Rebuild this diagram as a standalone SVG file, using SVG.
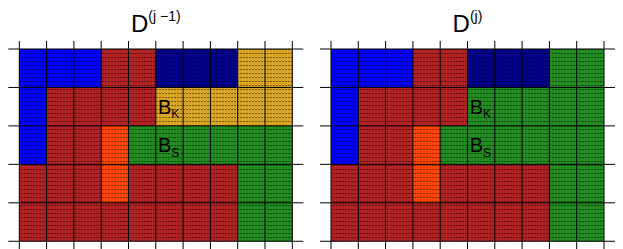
<svg xmlns="http://www.w3.org/2000/svg" width="623" height="249" viewBox="0 0 623 249">
<style>
.blue{fill:#0000ff}.navy{fill:#00008b}.red{fill:#b22222}.gold{fill:#daa520}.green{fill:#228b22}.orange{fill:#ff4500}
.grid line{stroke:#000;stroke-width:1}
text{font-family:"Liberation Sans",Arial,sans-serif;fill:#000}
.title{font-size:24px}.sup{font-size:14px}
.lab{font-size:20px}.sub{font-size:12px}
</style>
<defs>
<pattern id="dots" patternUnits="userSpaceOnUse" width="3" height="4">
<rect x="0" y="1" width="2" height="1" fill="#000" fill-opacity="0.45"/>
</pattern>
</defs>
<g id="panel-left">
<g id="left-cells">
<rect class="red" x="19.3" y="49" width="273" height="192.25"/>
<rect class="blue" x="19.3" y="49" width="81.9" height="38.45"/>
<rect class="blue" x="19.3" y="87.45" width="27.3" height="76.9"/>
<rect class="navy" x="155.8" y="49" width="81.9" height="38.45"/>
<rect class="gold" x="237.7" y="49" width="54.6" height="38.45"/>
<rect class="gold" x="155.8" y="87.45" width="136.5" height="38.45"/>
<rect class="orange" x="101.2" y="125.9" width="27.3" height="76.9"/>
<rect class="green" x="128.5" y="125.9" width="163.8" height="38.45"/>
<rect class="green" x="237.7" y="164.35" width="54.6" height="76.9"/>
<rect fill="url(#dots)" x="19.3" y="49" width="273" height="192.25"/>
</g>
<g class="grid" id="left-grid">
<line x1="19.3" y1="41" x2="19.3" y2="249"/>
<line x1="46.6" y1="41" x2="46.6" y2="249"/>
<line x1="73.9" y1="41" x2="73.9" y2="249"/>
<line x1="101.2" y1="41" x2="101.2" y2="249"/>
<line x1="128.5" y1="41" x2="128.5" y2="249"/>
<line x1="155.8" y1="41" x2="155.8" y2="249"/>
<line x1="183.1" y1="41" x2="183.1" y2="249"/>
<line x1="210.4" y1="41" x2="210.4" y2="249"/>
<line x1="237.7" y1="41" x2="237.7" y2="249"/>
<line x1="265" y1="41" x2="265" y2="249"/>
<line x1="292.3" y1="41" x2="292.3" y2="249"/>
<line x1="8.3" y1="49" x2="303.3" y2="49"/>
<line x1="8.3" y1="87.45" x2="303.3" y2="87.45"/>
<line x1="8.3" y1="125.9" x2="303.3" y2="125.9"/>
<line x1="8.3" y1="164.35" x2="303.3" y2="164.35"/>
<line x1="8.3" y1="202.8" x2="303.3" y2="202.8"/>
<line x1="8.3" y1="241.25" x2="303.3" y2="241.25"/>
</g>
<text class="title" x="155.8" y="32" text-anchor="middle">D<tspan class="sup" dy="-11">(j −1)</tspan></text>
<text class="lab" x="158" y="113.5">B<tspan class="sub" dy="4.5">K</tspan></text>
<text class="lab" x="158" y="152">B<tspan class="sub" dy="4.5">S</tspan></text>
</g>
<g id="panel-right">
<g id="right-cells">
<rect class="red" x="331" y="49" width="273" height="192.25"/>
<rect class="blue" x="331" y="49" width="81.9" height="38.45"/>
<rect class="blue" x="331" y="87.45" width="27.3" height="76.9"/>
<rect class="navy" x="467.5" y="49" width="81.9" height="38.45"/>
<rect class="green" x="549.4" y="49" width="54.6" height="38.45"/>
<rect class="green" x="467.5" y="87.45" width="136.5" height="38.45"/>
<rect class="orange" x="412.9" y="125.9" width="27.3" height="76.9"/>
<rect class="green" x="440.2" y="125.9" width="163.8" height="38.45"/>
<rect class="green" x="549.4" y="164.35" width="54.6" height="76.9"/>
<rect fill="url(#dots)" x="331" y="49" width="273" height="192.25"/>
</g>
<g class="grid" id="right-grid">
<line x1="331" y1="41" x2="331" y2="249"/>
<line x1="358.3" y1="41" x2="358.3" y2="249"/>
<line x1="385.6" y1="41" x2="385.6" y2="249"/>
<line x1="412.9" y1="41" x2="412.9" y2="249"/>
<line x1="440.2" y1="41" x2="440.2" y2="249"/>
<line x1="467.5" y1="41" x2="467.5" y2="249"/>
<line x1="494.8" y1="41" x2="494.8" y2="249"/>
<line x1="522.1" y1="41" x2="522.1" y2="249"/>
<line x1="549.4" y1="41" x2="549.4" y2="249"/>
<line x1="576.7" y1="41" x2="576.7" y2="249"/>
<line x1="604" y1="41" x2="604" y2="249"/>
<line x1="320" y1="49" x2="615" y2="49"/>
<line x1="320" y1="87.45" x2="615" y2="87.45"/>
<line x1="320" y1="125.9" x2="615" y2="125.9"/>
<line x1="320" y1="164.35" x2="615" y2="164.35"/>
<line x1="320" y1="202.8" x2="615" y2="202.8"/>
<line x1="320" y1="241.25" x2="615" y2="241.25"/>
</g>
<text class="title" x="467.5" y="32" text-anchor="middle">D<tspan class="sup" dy="-11">(j)</tspan></text>
<text class="lab" x="469.7" y="113.5">B<tspan class="sub" dy="4.5">K</tspan></text>
<text class="lab" x="469.7" y="152">B<tspan class="sub" dy="4.5">S</tspan></text>
</g>
</svg>
